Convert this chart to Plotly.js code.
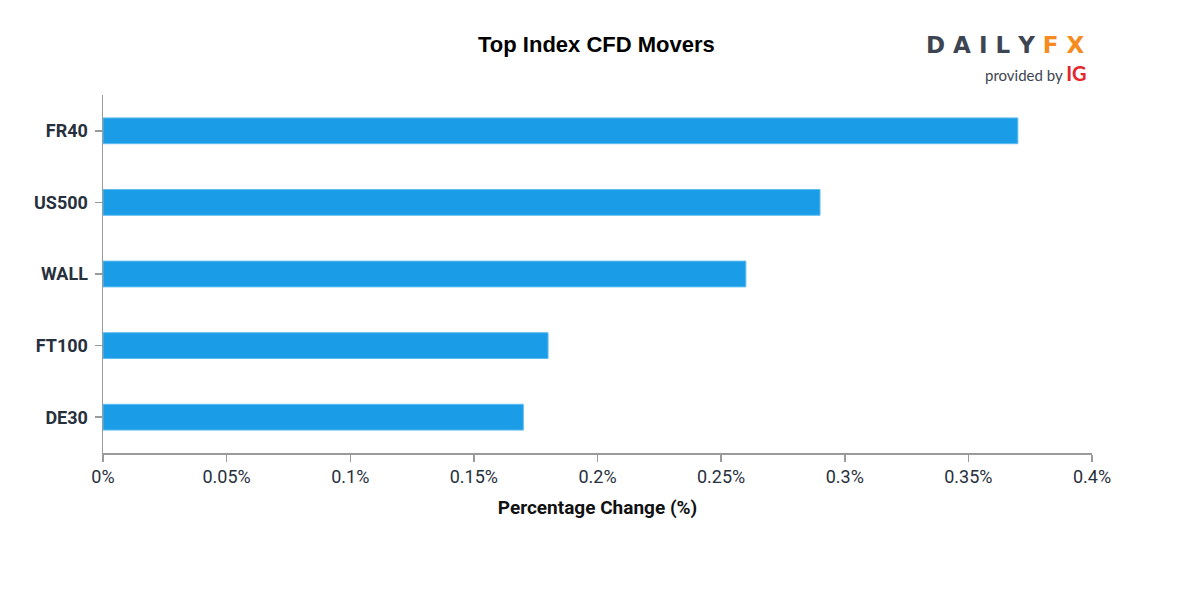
<!DOCTYPE html>
<html><head><meta charset="utf-8">
<script src="https://cdn.plot.ly/plotly-3.0.1.min.js"></script>
<style>html,body{margin:0;padding:0;background:#fff}#chart{width:1200px;height:600px}</style>
</head><body><div id="chart"></div>
<script>
const categories = ["FR40", "US500", "WALL", "FT100", "DE30"];
const values = [0.37, 0.29, 0.26, 0.18, 0.17];
const tickValues = [0, 0.05, 0.1, 0.15, 0.2, 0.25, 0.3, 0.35, 0.4];
const tickLabels = ["0%", "0.05%", "0.1%", "0.15%", "0.2%", "0.25%", "0.3%", "0.35%", "0.4%"];

const trace = {
  type: "bar", orientation: "h",
  x: values, y: categories,
  width: 0.36,
  marker: {color: "#1a9de6", line: {color: "#5fbcef", width: 1}},
  hoverinfo: "x+y"
};
const layout = {
  width: 1200, height: 600,
  margin: {l: 103, r: 108, t: 95, b: 147},
  paper_bgcolor: "#fff", plot_bgcolor: "#fff",
  showlegend: false,
  title: {text: "<b>Top Index CFD Movers</b>", x: 0.497, xanchor: "center", y: 0.927, yanchor: "middle",
          font: {family: "Liberation Sans, Arial, sans-serif", size: 22, color: "#000"}},
  xaxis: {range: [0, 0.4], tickvals: tickValues, ticktext: tickLabels,
          showgrid: false, zeroline: false, showline: true, linecolor: "#9a9a9a", linewidth: 1.5,
          ticks: "outside", ticklen: 7, tickcolor: "#9a9a9a", tickwidth: 1.5,
          tickfont: {family: "Roboto, sans-serif", size: 18, color: "#27303d"},
          title: {text: "<b>Percentage Change (%)</b>", standoff: 14,
                  font: {family: "Roboto, sans-serif", size: 19, color: "#111"}}},
  yaxis: {range: [4.5, -0.5], showgrid: false, zeroline: false, showline: true, linecolor: "#9a9a9a", linewidth: 1.5,
          ticks: "outside", ticklen: 7, tickcolor: "#9a9a9a", tickwidth: 1.5, ticklabelstandoff: 3,
          tickfont: {family: "Roboto, sans-serif", size: 18, color: "#27303d", weight: "bold"}},
  annotations: [
    {xref: "paper", yref: "paper", x: 0.995, y: 1.14, xanchor: "right", yanchor: "middle", showarrow: false,
     text: "<b><span style='color:#3d4552'>D A I L Y</span> <span style='color:#f68b1f'>F X</span></b>",
     font: {family: "DejaVu Sans, sans-serif", size: 23, color: "#3d4552"}},
    {xref: "paper", yref: "paper", x: 0.997, y: 1.061, xanchor: "right", yanchor: "middle", showarrow: false,
     text: "<span style='color:#3d4552'>provided by</span> <b><span style='color:#e3262c;font-size:20px'>IG</span></b>",
     font: {family: "Lato, sans-serif", size: 15, color: "#3d4552"}}
  ]
};
Plotly.newPlot("chart", [trace], layout, {displayModeBar: false, staticPlot: true});
</script></body></html>
